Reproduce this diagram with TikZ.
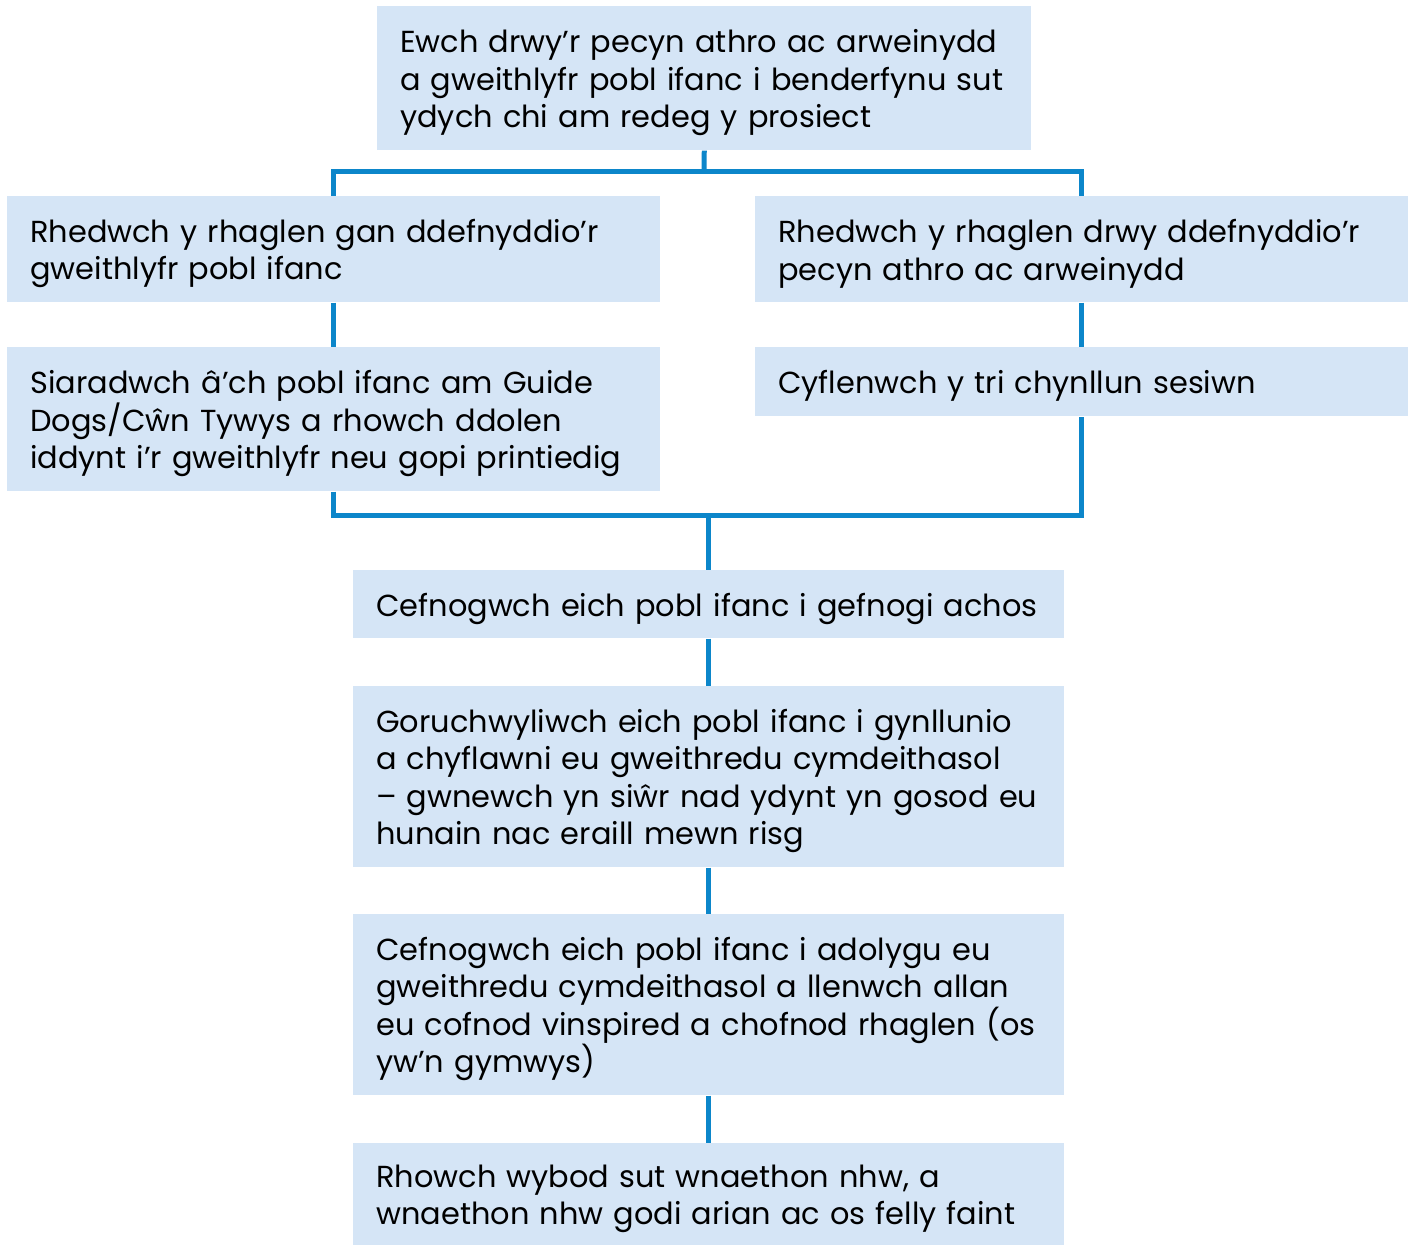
\documentclass[tikz,border=0pt]{standalone}
\usepackage{fontspec}
\setmainfont{Poppins}
\definecolor{boxfill}{RGB}{213,229,246}
\definecolor{linkblue}{RGB}{12,134,202}
\newcommand{\oneline}[1]{\mbox{#1}}
\begin{document}
\begin{tikzpicture}[x=0.75pt,y=-0.75pt,
  stepbox/.style={anchor=north west, fill=boxfill, draw=none, inner xsep=17.25pt, inner ysep=0pt,
    align=left, font=\fontsize{22.8}{28.1}\selectfont,
    execute at begin node={\rule{0pt}{24pt}}},
  wideA/.style={minimum width=489.75pt, text width=455.25pt},
  wideB/.style={minimum width=533.25pt, text width=498.75pt},
  link/.style={draw=linkblue, line width=3.75pt, line join=miter}]
\useasboundingbox (0,0) rectangle (1411,1245);
\node[stepbox, minimum width=490.5pt, text width=456pt, minimum height=108pt] (t) at (377,6)
  {\oneline{Ewch drwy’r pecyn athro ac arweinydd}\\\oneline{a gweithlyfr pobl ifanc i benderfynu sut}\\\oneline{ydych chi am redeg y prosiect}};
\node[stepbox, wideA, minimum height=79.5pt] (l1) at (7,196)
  {\oneline{Rhedwch y rhaglen gan ddefnyddio’r}\\\oneline{gweithlyfr pobl ifanc}};
\node[stepbox, wideA, minimum height=79.5pt] (r1) at (755,196)
  {\oneline{Rhedwch y rhaglen drwy ddefnyddio’r}\\\oneline{pecyn athro ac arweinydd}};
\node[stepbox, wideA, minimum height=108pt] (l2) at (7,347)
  {\oneline{Siaradwch â’ch pobl ifanc am Guide}\\\oneline{Dogs/Cŵn Tywys a rhowch ddolen}\\\oneline{iddynt i’r gweithlyfr neu gopi printiedig}};
\node[stepbox, wideA, minimum height=51.75pt] (r2) at (755,347)
  {\oneline{Cyflenwch y tri chynllun sesiwn}};
\node[stepbox, wideB, minimum height=51pt] (c1) at (353,570)
  {\oneline{Cefnogwch eich pobl ifanc i gefnogi achos}};
\node[stepbox, wideB, minimum height=135.75pt] (c2) at (353,686)
  {\oneline{Goruchwyliwch eich pobl ifanc i gynllunio}\\\oneline{a chyflawni eu gweithredu cymdeithasol}\\\oneline{– gwnewch yn siŵr nad ydynt yn gosod eu}\\\oneline{hunain nac eraill mewn risg}};
\node[stepbox, wideB, minimum height=135.75pt] (c3) at (353,914)
  {\oneline{Cefnogwch eich pobl ifanc i adolygu eu}\\\oneline{gweithredu cymdeithasol a llenwch allan}\\\oneline{eu cofnod vinspired a chofnod rhaglen (os}\\\oneline{yw’n gymwys)}};
\node[stepbox, wideB, minimum height=76.5pt] (c4) at (353,1143)
  {\oneline{Rhowch wybod sut wnaethon nhw, a}\\\oneline{wnaethon nhw godi arian ac os felly faint}};
\coordinate (jt) at (704,172);
\coordinate (jb) at (c1.north |- 0,515);
\draw[link] (t.south) -- (jt);
\draw[link] (l1.north) |- (jt) -| (r1.north);
\draw[link] (l1.south) -- (l2.north);
\draw[link] (r1.south) -- (r2.north);
\draw[link] (l2.south) |- (jb) -| (r2.south);
\draw[link] (jb) -- (c1.north);
\draw[link] (c1.south) -- (c2.north);
\draw[link] (c2.south) -- (c3.north);
\draw[link] (c3.south) -- (c4.north);
\end{tikzpicture}
\end{document}
